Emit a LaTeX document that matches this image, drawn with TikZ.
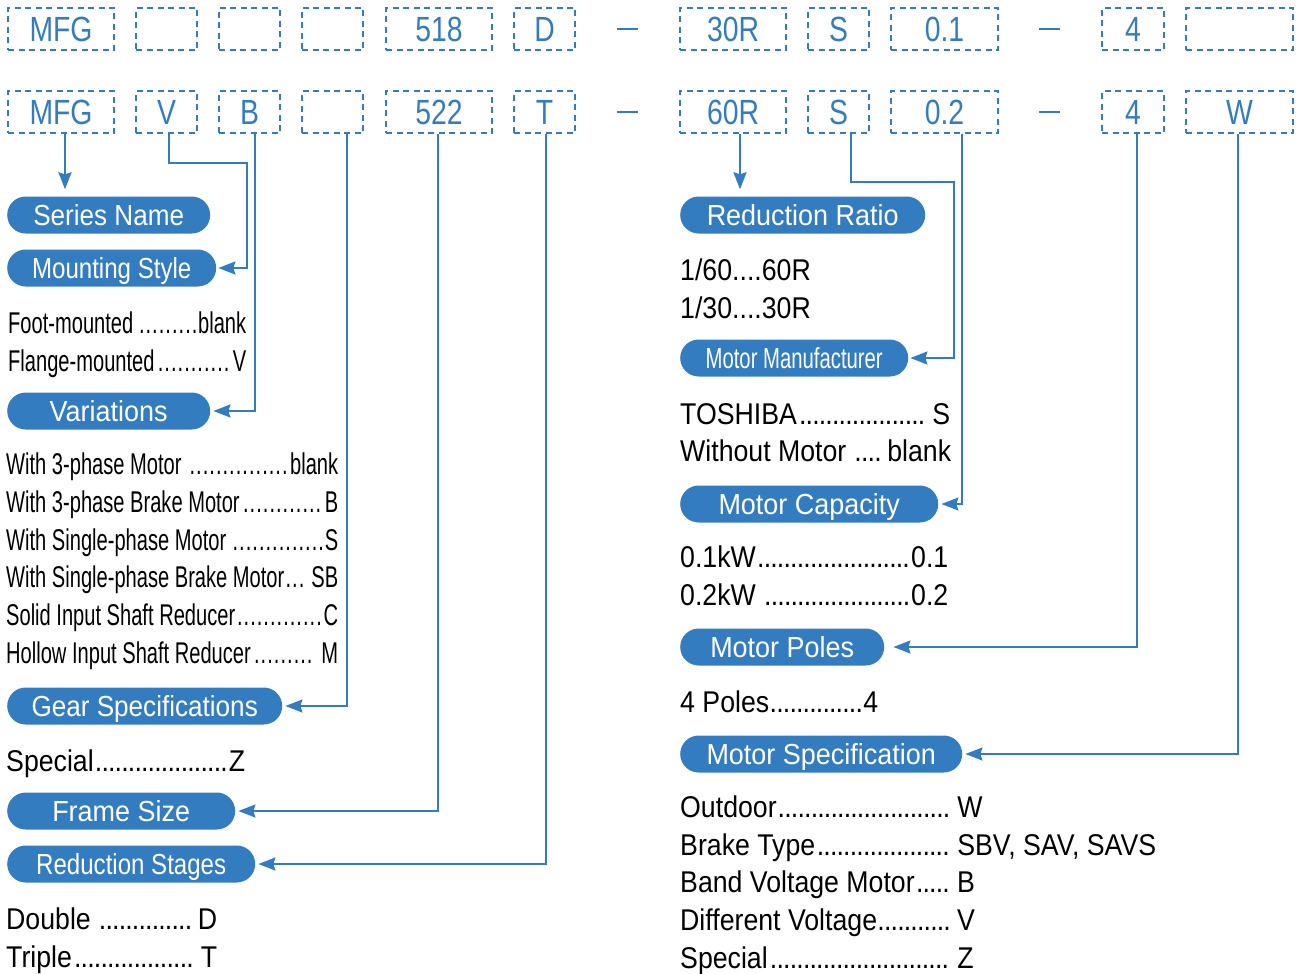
\documentclass[tikz,border=0pt]{standalone}
\usepackage{fontspec}
\setmainfont{Liberation Sans}
\newfontfamily\boxfont{Liberation Sans}[FakeStretch=0.81]
\newfontfamily\pillfont{Liberation Sans}[FakeStretch=0.9]
\newfontfamily\pillnarrow{Liberation Sans}[FakeStretch=0.83]
\newfontfamily\pillwide{Liberation Sans}[FakeStretch=0.93]
\newfontfamily\narrowfont{Liberation Sans}[FakeStretch=0.67]
\newfontfamily\makerfont{Liberation Sans}[FakeStretch=0.7]
\newfontfamily\bodyfont{Liberation Sans}[FakeStretch=0.89]
\usepackage{xcolor}
\usetikzlibrary{arrows.meta,positioning,calc,shapes.misc}
\definecolor{codeblue}{RGB}{52,124,192}
\newcommand\leaderdots{\cleaders\hbox to 0.22em{\hss.\hss}\hfill}

\begin{document}
\begin{tikzpicture}[x=1pt,y=-1pt,
  codebox/.style={draw=codeblue,line width=1.5pt,dash pattern=on 6pt off 4.5pt,minimum height=42pt,inner sep=0pt,text=codeblue,font=\boxfont\fontsize{35pt}{40pt}\selectfont},
  pill/.style={rounded rectangle,fill=codeblue,text=white,minimum height=37pt,inner sep=0pt,text height=21pt,text depth=0pt,anchor=west,font=\pillfont\fontsize{29pt}{34pt}\selectfont},
  narrowpill/.style={pill,font=\pillnarrow\fontsize{29pt}{34pt}\selectfont},
  widepill/.style={pill,font=\pillwide\fontsize{29pt}{34pt}\selectfont},
  lefttext/.style={anchor=base west,inner sep=0pt,font=\narrowfont\fontsize{30pt}{34pt}\selectfont},
  righttext/.style={anchor=base west,inner sep=0pt,font=\bodyfont\fontsize{30pt}{34pt}\selectfont},
  link/.style={draw=codeblue,line width=2pt,-{Stealth[length=17pt,width=13pt,inset=2pt]}}]
\useasboundingbox (0,0) rectangle (1298,974);

% code boxes, sample row and model row
\foreach \x/\w/\sample/\model [count=\i] in {61/106/MFG/MFG, 166.5/61//V, 249.5/61//B, 332.5/61//, 439/106/518/522, 544.5/61/D/T, 733/106/30R/60R, 838.5/61/S/S, 944.5/107/0.1/0.2, 1133/62/4/4, 1239.5/107//W}{
  \node[codebox,minimum width=\w pt] (s\i) at (\x,29) {\sample};
  \node[codebox,minimum width=\w pt] (m\i) at (\x,112) {\model};
}
\foreach \y in {29,112}{
  \draw[codeblue,line width=2.5pt] (617,\y) -- (638,\y);
  \draw[codeblue,line width=2.5pt] (1039,\y) -- (1060,\y);
}

% left column
\node[pill,minimum width=203pt] (series) at (7,215) {Series Name};
\node[narrowpill,minimum width=209pt] (mounting) at (7,268) {Mounting Style};
\node[lefttext] (foot) at (8,333) {\hbox to 238pt{Foot-mounted\,\leaderdots blank}};
\node[lefttext] (flange) at (8,371) {\hbox to 238pt{Flange-mounted\leaderdots V}};
\node[widepill,minimum width=203pt] (variations) at (7,411) {Variations};
\foreach \name/\code [count=\k] in {With 3-phase Motor\ /blank, With 3-phase Brake Motor/B, With Single-phase Motor\ /S, With Single-phase Brake Motor/\ SB, Solid Input Shaft Reducer/C, Hollow Input Shaft Reducer/\ M}{
  \node[lefttext] (var\k) at (6,{437+37.7*\k}) {\hbox to 332pt{\name\leaderdots\code}};
}
\node[pill,minimum width=275pt] (gearspec) at (7,706) {Gear Specifications};
\node[righttext] (special) at (6,771) {\hbox to 239pt{Special\leaderdots Z}};
\node[widepill,minimum width=228pt] (framesize) at (7,811) {Frame Size};
\node[narrowpill,minimum width=248pt] (stages) at (7,864) {Reduction Stages};
\node[righttext] (double) at (6,929) {\hbox to 211pt{Double \leaderdots\,D}};
\node[righttext] (triple) at (6,967) {\hbox to 211pt{Triple\leaderdots\,T}};

% right column
\node[widepill,minimum width=245pt] (ratio) at (680,215) {Reduction Ratio};
\node[righttext] (r60) at (680,280) {1/60....60R};
\node[righttext] (r30) at (680,318) {1/30....30R};
\node[pill,minimum width=228pt,font=\makerfont\fontsize{29pt}{34pt}\selectfont] (maker) at (680,358) {Motor Manufacturer};
\node[righttext] (toshiba) at (680,424) {\hbox to 270pt{TOSHIBA\leaderdots\,S}};
\node[righttext] (nomotor) at (680,461) {\hbox to 271pt{Without Motor \leaderdots\,blank}};
\node[widepill,minimum width=258pt] (capacity) at (680,504) {Motor Capacity};
\node[righttext] (kw1) at (680,567) {\hbox to 268pt{0.1kW\leaderdots 0.1}};
\node[righttext] (kw2) at (680,605) {\hbox to 268pt{0.2kW \leaderdots 0.2}};
\node[widepill,minimum width=204pt] (poles) at (680,647) {Motor Poles};
\node[righttext] (pole4) at (680,712) {\hbox to 198pt{4 Poles\leaderdots 4}};
\node[widepill,minimum width=282pt] (motorspec) at (680,754) {Motor Specification};
\foreach \name/\code [count=\k] in {Outdoor/W, Brake Type/{SBV, SAV, SAVS}, Band Voltage Motor/B, Different Voltage/V, Special/Z}{
  \node[righttext] (spec\k) at (680,{780+37.6*\k}) {\hbox to 271pt{\name\leaderdots}\hspace{6pt}\code};
}

% connectors
\draw[link,shorten >=7pt] ([xshift=4pt]m1.south) -- ([xshift=4pt]m1.south |- series.north);
\draw[link,shorten >=2pt] ([xshift=2.5pt]m2.south) -- ++(0,29) -- ++(78,0) |- (mounting.east);
\draw[link,shorten >=3pt] ([xshift=5pt]m3.south) |- (variations.east);
\draw[link,shorten >=3pt] ([xshift=14.5pt]m4.south) |- (gearspec.east);
\draw[link,shorten >=3pt] ([xshift=-1pt]m5.south) |- (framesize.east);
\draw[link,shorten >=3pt] ([xshift=1.5pt]m6.south) |- (stages.east);
\draw[link,shorten >=7pt] ([xshift=7pt]m7.south) -- ([xshift=7pt]m7.south |- ratio.north);
\draw[link,shorten >=2pt] ([xshift=12.5pt]m8.south) -- ++(0,48) -- ++(103,0) |- (maker.east);
\draw[link,shorten >=3pt] ([xshift=17.5pt]m9.south) |- (capacity.east);
\draw[link,shorten >=9pt] ([xshift=4pt]m10.south) |- (poles.east);
\draw[link,shorten >=3pt] ([xshift=-1.5pt]m11.south) |- (motorspec.east);
\end{tikzpicture}
\end{document}
